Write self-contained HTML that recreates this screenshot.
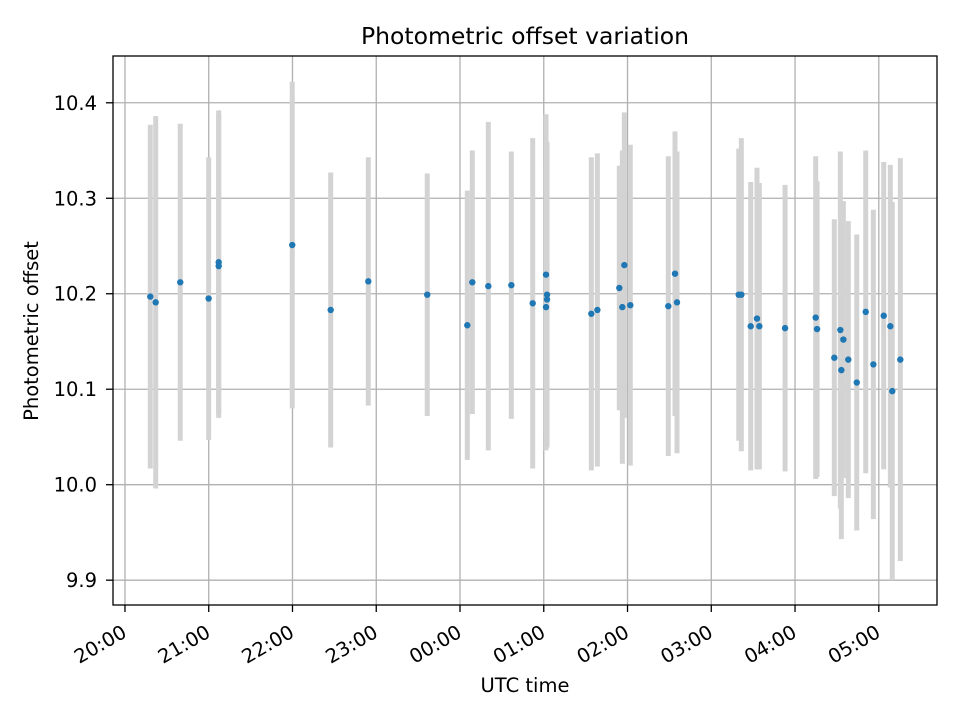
<!DOCTYPE html>
<html><head><meta charset="utf-8"><style>
body{margin:0;background:#fff;}
svg{display:block;font-family:"DejaVu Sans","Liberation Sans",sans-serif;}
</style></head><body>
<svg id="chart" width="960" height="720">
<rect width="960" height="720" fill="#fff"/>
<text x="525" y="44" font-size="23.5" text-anchor="middle">Photometric offset variation</text>
<text x="525" y="692" font-size="19.5" text-anchor="middle">UTC time</text>
<text transform="translate(38,331) rotate(-90)" font-size="19.5" text-anchor="middle">Photometric offset</text>
<g id="grid"></g><g id="bars"></g><g id="pts"></g><g id="ticks"></g>
<rect x="113" y="56" width="824" height="549" fill="none" stroke="#000" stroke-width="1.3"/>
</svg>
<script>
const hours=[0.302,0.367,0.660,0.999,1.119,1.119,1.997,2.456,2.905,3.609,4.087,4.147,4.338,4.613,4.868,5.027,5.039,5.039,5.027,5.568,5.640,5.902,5.962,5.938,6.033,6.487,6.567,6.591,7.328,7.359,7.471,7.546,7.574,7.881,8.247,8.263,8.469,8.541,8.553,8.577,8.636,8.737,8.844,8.935,9.059,9.138,9.161,9.257];
const offsets=[10.197,10.191,10.212,10.195,10.233,10.229,10.251,10.183,10.213,10.199,10.167,10.212,10.208,10.209,10.190,10.220,10.199,10.194,10.186,10.179,10.183,10.206,10.230,10.186,10.188,10.187,10.221,10.191,10.199,10.199,10.166,10.174,10.166,10.164,10.175,10.163,10.133,10.162,10.120,10.152,10.131,10.107,10.181,10.126,10.177,10.166,10.098,10.131];
const errors=[0.180,0.195,0.166,0.148,0.159,0.159,0.171,0.144,0.130,0.127,0.141,0.138,0.172,0.140,0.173,0.168,0.160,0.150,0.150,0.164,0.164,0.128,0.160,0.164,0.168,0.157,0.149,0.158,0.153,0.164,0.151,0.158,0.150,0.150,0.169,0.155,0.145,0.187,0.177,0.145,0.145,0.155,0.169,0.162,0.161,0.169,0.198,0.211];
const xTickLabels=["20:00","21:00","22:00","23:00","00:00","01:00","02:00","03:00","04:00","05:00"];
const yTickLabels=["9.9","10.0","10.1","10.2","10.3","10.4"];
const L=113,R=937,T=56,B=605,x0=-0.143,x1=9.695,y0=9.874,y1=10.449;
const X=h=>L+(h-x0)/(x1-x0)*(R-L);
const Y=v=>B-(v-y0)/(y1-y0)*(B-T);
const NS="http://www.w3.org/2000/svg";
function mk(tag,attrs,parent){const e=document.createElementNS(NS,tag);for(const k in attrs)e.setAttribute(k,attrs[k]);document.getElementById(parent).appendChild(e);return e;}
xTickLabels.forEach((lab,i)=>{const x=X(i);
 const g=mk('line',{x1:x,x2:x,y1:T,y2:B,stroke:'#b0b0b0','stroke-width':1.3},'grid');
 
 
 const t=mk('line',{x1:x,x2:x,y1:B,y2:B+7,stroke:'#000','stroke-width':1.3},'ticks');
 
 
 const ax=x+3,ay=B+31;
 const tx=mk('text',{x:ax,y:ay,'font-size':19.5,'text-anchor':'end',transform:`rotate(-30 ${ax} ${ay})`},'ticks');
 tx.textContent=lab;
 
 
});
yTickLabels.forEach(lab=>{const y=Y(parseFloat(lab));
 const g=mk('line',{x1:L,x2:R,y1:y,y2:y,stroke:'#b0b0b0','stroke-width':1.3},'grid');
 
 
 const t=mk('line',{x1:L-7,x2:L,y1:y,y2:y,stroke:'#000','stroke-width':1.3},'ticks');
 
 
 const tx=mk('text',{x:L-16,y:y+7,'font-size':19.5,'text-anchor':'end'},'ticks');
 tx.textContent=lab;
 
 
});
hours.forEach((h,i)=>{const x=X(h);
 const b=mk('line',{x1:x,x2:x,y1:Y(offsets[i]+errors[i]),y2:Y(offsets[i]-errors[i]),stroke:'#d3d3d3','stroke-width':5},'bars');
 
 
 const c=mk('circle',{cx:x,cy:Y(offsets[i]),r:3.2,fill:'#1f77b4'},'pts');
 
 
});
</script>
</body></html>
